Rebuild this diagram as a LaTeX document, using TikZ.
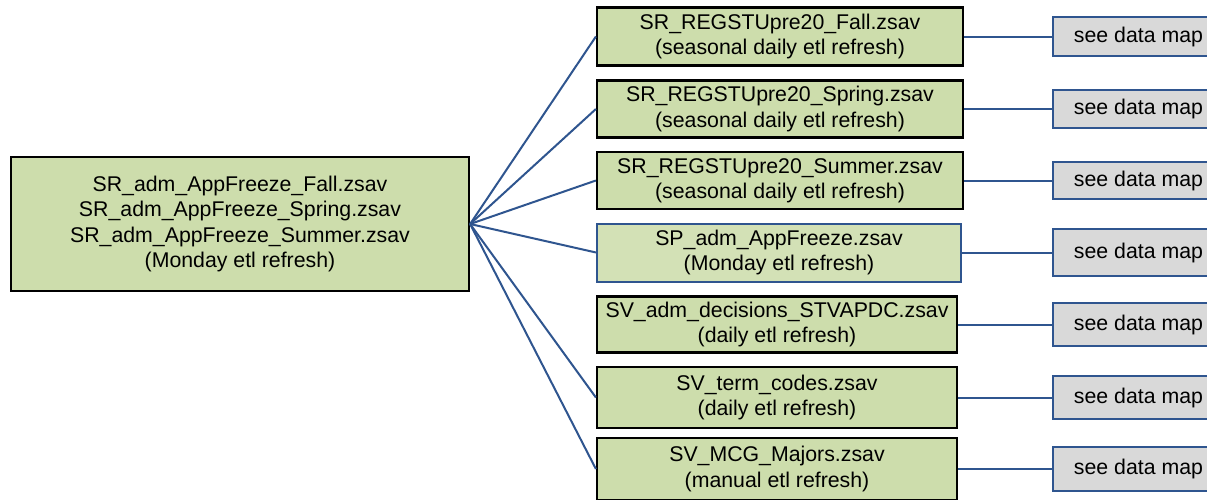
\documentclass[tikz,border=0pt]{standalone}
\usepackage{fontspec}
\setmainfont{Liberation Sans}
\definecolor{boxgreen}{RGB}{205,221,172}
\definecolor{boxgreenlt}{RGB}{211,225,182}
\definecolor{boxgray}{RGB}{217,217,217}
\definecolor{linkblue}{RGB}{47,85,143}
\begin{document}
\begin{tikzpicture}[x=1pt,y=-1pt,
  txt/.style={font=\fontsize{21.3}{25.3}\selectfont, align=center, inner sep=0pt},
  srcbox/.style={txt, draw=black, line width=2.2pt, fill=boxgreen},
  filebox/.style={txt, draw=black, line width=2.2pt, fill=boxgreen},
  fileboxblue/.style={txt, draw=linkblue, line width=2pt, fill=boxgreenlt},
  mapbox/.style={txt, draw=linkblue, line width=2pt, fill=boxgray, minimum width=171pt},
  link/.style={draw=linkblue, line width=2pt}]
\useasboundingbox (0,0) rectangle (1207,499);
\fill[white] (0,0) rectangle (1207,499);

\node[srcbox, minimum width=458pt, minimum height=134pt] (src) at (240,224)
  {SR\_adm\_AppFreeze\_Fall.zsav\\SR\_adm\_AppFreeze\_Spring.zsav\\SR\_adm\_AppFreeze\_Summer.zsav\\(Monday etl refresh)};

\node[filebox, minimum width=366pt, minimum height=58pt] (f1) at (780,36.5)
  {SR\_REGSTUpre20\_Fall.zsav\\(seasonal daily etl refresh)};
\node[filebox, minimum width=366pt, minimum height=57pt] (f2) at (780,109)
  {SR\_REGSTUpre20\_Spring.zsav\\(seasonal daily etl refresh)};
\node[filebox, minimum width=366pt, minimum height=57pt] (f3) at (780,180.5)
  {SR\_REGSTUpre20\_Summer.zsav\\(seasonal daily etl refresh)};
\node[fileboxblue, minimum width=364pt, minimum height=58pt] (f4) at (779,252.5)
  {SP\_adm\_AppFreeze.zsav\\(Monday etl refresh)};
\node[filebox, minimum width=360pt, minimum height=56pt] (f5) at (777,324.5)
  {SV\_adm\_decisions\_STVAPDC.zsav\\(daily etl refresh)};
\node[filebox, minimum width=360pt, minimum height=61pt] (f6) at (777,397.5)
  {SV\_term\_codes.zsav\\(daily etl refresh)};
\node[filebox, minimum width=360pt, minimum height=62pt] (f7) at (777,469)
  {SV\_MCG\_Majors.zsav\\(manual etl refresh)};

\node[mapbox, minimum height=39pt] (m1) at (1138.5,36.5) {see data map};
\node[mapbox, minimum height=38pt] (m2) at (1138.5,109) {see data map};
\node[mapbox, minimum height=37pt] (m3) at (1138.5,180.5) {see data map};
\node[mapbox, minimum height=47pt] (m4) at (1138.5,252.5) {see data map};
\node[mapbox, minimum height=43pt] (m5) at (1138.5,324.5) {see data map};
\node[mapbox, minimum height=43pt] (m6) at (1138.5,397.5) {see data map};
\node[mapbox, minimum height=44pt] (m7) at (1138.5,469) {see data map};

\foreach \i in {1,2,3,4,6,7} {\draw[link] (src.east) -- (f\i.west);}
\foreach \i in {1,...,7} {\draw[link] (f\i.east) -- (m\i.west);}
\end{tikzpicture}
\end{document}
